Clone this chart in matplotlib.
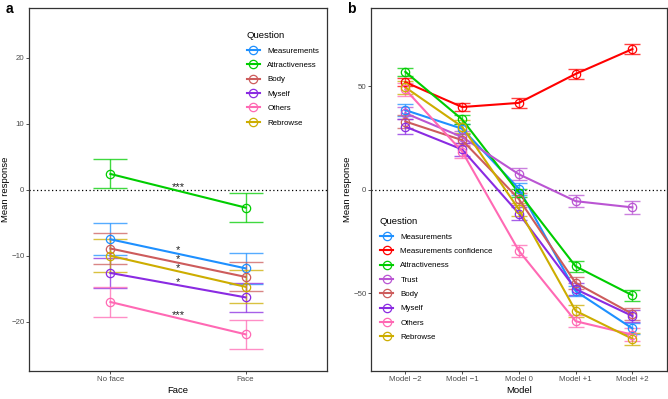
import matplotlib
matplotlib.use("Agg")
import matplotlib.pyplot as plt
from matplotlib.lines import Line2D
import numpy as np

plt.rcParams['font.family'] = ['Liberation Sans', 'DejaVu Sans']

# ---------------- data: panel a ----------------
questions_a = ['Measurements', 'Attractiveness', 'Body', 'Myself', 'Others', 'Rebrowse']
face_levels = ['No face', 'Face']
noface_mean = [-7.5, 2.4, -8.9, -12.6, -17.0, -10.0]
face_mean = [-11.9, -2.7, -13.2, -16.3, -21.9, -14.7]
noface_err = [2.4, 2.2, 2.3, 2.3, 2.3, 2.5]
face_err = [2.4, 2.2, 2.2, 2.2, 2.2, 2.5]
signif_a = ['*', '***', '*', '*', '***', '*']

# ---------------- data: panel b ----------------
questions_b = ['Measurements', 'Measurements confidence', 'Attractiveness', 'Trust',
               'Body', 'Myself', 'Others', 'Rebrowse']
models = ['Model \u22122', 'Model \u22121', 'Model 0', 'Model +1', 'Model +2']
b_measurements = [38.5, 29.5, 0.5, -49.0, -67.0]
b_meas_conf = [52.0, 40.0, 42.0, 56.0, 68.0]
b_attract = [57.0, 34.0, -1.5, -37.0, -51.0]
b_trust = [37.0, 25.5, 7.5, -5.5, -8.5]
b_body = [33.0, 24.0, -4.5, -45.0, -60.0]
b_myself = [30.5, 19.5, -11.5, -48.0, -61.0]
b_others = [48.5, 18.5, -29.5, -63.5, -70.0]
b_rebrowse = [49.5, 30.5, -9.5, -58.5, -72.0]
e_measurements = [3.0, 2.5, 3.0, 2.5, 2.5]
e_meas_conf = [2.0, 2.0, 2.5, 2.5, 2.5]
e_attract = [2.0, 2.0, 2.0, 2.5, 2.5]
e_trust = [3.0, 3.0, 3.0, 3.0, 3.0]
e_body = [3.0, 3.0, 3.0, 3.0, 3.0]
e_myself = [3.5, 3.0, 3.0, 3.0, 3.0]
e_others = [3.0, 3.0, 3.0, 3.0, 3.0]
e_rebrowse = [3.0, 3.0, 3.0, 3.0, 3.0]

colors = {
    'Measurements': '#1E90FF',
    'Measurements confidence': '#FF0000',
    'Attractiveness': '#00CD00',
    'Trust': '#BA55D3',
    'Body': '#CD5C5C',
    'Myself': '#8A2BE2',
    'Others': '#FF69B4',
    'Rebrowse': '#CDAD00',
}

TICK_C = '#4D4D4D'
SPINE_C = '#333333'
TICK_FS = 5.7
LEG_FS = 5.7
TITLE_FS = 6.8

fig = plt.figure(figsize=(6.68, 3.99), dpi=100)
W, H = 668, 399


def ax_rect(l, r, t, b):
    return [l / W, 1 - b / H, (r - l) / W, (b - t) / H]


def style_ax(ax):
    for s in ax.spines.values():
        s.set_color(SPINE_C)
        s.set_linewidth(0.9)
    ax.tick_params(axis='both', colors=SPINE_C, labelcolor=TICK_C, labelsize=TICK_FS,
                   length=2.0, width=0.6, direction='out', pad=1.5)
    ax.axhline(0, color='black', linestyle=(0, (1, 2)), linewidth=0.9, zorder=1)


# ---------------- panel a ----------------
axa = fig.add_axes(ax_rect(29.3, 326.7, 8.3, 371.3))
xpos = np.arange(1, len(face_levels) + 1)
for i, q in enumerate(questions_a):
    c = colors[q]
    ys = [noface_mean[i], face_mean[i]]
    es = [noface_err[i], face_err[i]]
    axa.errorbar(xpos, ys, yerr=es, fmt='none', ecolor=c, elinewidth=1.0,
                 capsize=11.9, capthick=1.0, alpha=0.75, zorder=2)
    axa.plot(xpos, ys, color=c, linewidth=1.5, zorder=3)
    axa.plot(xpos, ys, linestyle='none', marker='o', markersize=6,
             markerfacecolor='none', markeredgecolor=c, markeredgewidth=0.9, zorder=4)
    axa.text(xpos.mean(), np.mean(ys) + 0.5, signif_a[i], ha='center', va='center',
             fontsize=8, color='#222222', zorder=5)
axa.set_xlim(0.4, 2.6)
axa.set_ylim(-27.5, 27.5)
axa.set_xticks(xpos)
axa.set_xticklabels(face_levels)
axa.set_yticks([-20, -10, 0, 10, 20])
style_ax(axa)
axa.set_xlabel('Face', fontsize=TITLE_FS, labelpad=2)
axa.set_ylabel('Mean response', fontsize=TITLE_FS, labelpad=1)

handles_a = [Line2D([], [], color=colors[q], linewidth=1.5, marker='o', markersize=6,
                    markerfacecolor='none', markeredgewidth=0.9) for q in questions_a]
lega = axa.legend(handles_a, questions_a, loc='upper left', bbox_to_anchor=(0.72, 0.945),
                  frameon=False, fontsize=LEG_FS, title='Question', title_fontsize=TITLE_FS,
                  handlelength=1.7, handletextpad=0.9, labelspacing=0.86,
                  alignment='left', borderaxespad=0)

# ---------------- panel b ----------------
axb = fig.add_axes(ax_rect(371.3, 666.5, 8.3, 371.3))
series_b = [b_measurements, b_meas_conf, b_attract, b_trust, b_body, b_myself, b_others, b_rebrowse]
errs_b = [e_measurements, e_meas_conf, e_attract, e_trust, e_body, e_myself, e_others, e_rebrowse]
xb = np.arange(1, len(models) + 1)
for q, ys, es in zip(questions_b, series_b, errs_b):
    c = colors[q]
    axb.errorbar(xb, ys, yerr=es, fmt='none', ecolor=c, elinewidth=1.0,
                 capsize=5.6, capthick=1.0, alpha=0.75, zorder=2)
    axb.plot(xb, ys, color=c, linewidth=1.5, zorder=3)
    axb.plot(xb, ys, linestyle='none', marker='o', markersize=6,
             markerfacecolor='none', markeredgecolor=c, markeredgewidth=0.9, zorder=4)
axb.set_xlim(0.4, len(models) + 0.6)
axb.set_ylim(-87.7, 87.7)
axb.set_xticks(xb)
axb.set_xticklabels(models)
axb.set_yticks([-50, 0, 50])
style_ax(axb)
axb.set_xlabel('Model', fontsize=TITLE_FS, labelpad=2)
axb.set_ylabel('Mean response', fontsize=TITLE_FS, labelpad=1)

handles_b = [Line2D([], [], color=colors[q], linewidth=1.5, marker='o', markersize=6,
                    markerfacecolor='none', markeredgewidth=0.9) for q in questions_b]
legb = axb.legend(handles_b, questions_b, loc='upper left', bbox_to_anchor=(0.018, 0.433),
                  frameon=False, fontsize=LEG_FS, title='Question', title_fontsize=TITLE_FS,
                  handlelength=1.7, handletextpad=0.9, labelspacing=0.86,
                  alignment='left', borderaxespad=0)

# panel labels
fig.text(6 / W, 1 - 9 / H, 'a', fontsize=10, fontweight='bold', ha='left', va='center')
fig.text(347 / W, 1 - 9 / H, 'b', fontsize=10, fontweight='bold', ha='left', va='center')

fig.savefig('out.png', dpi=100)
